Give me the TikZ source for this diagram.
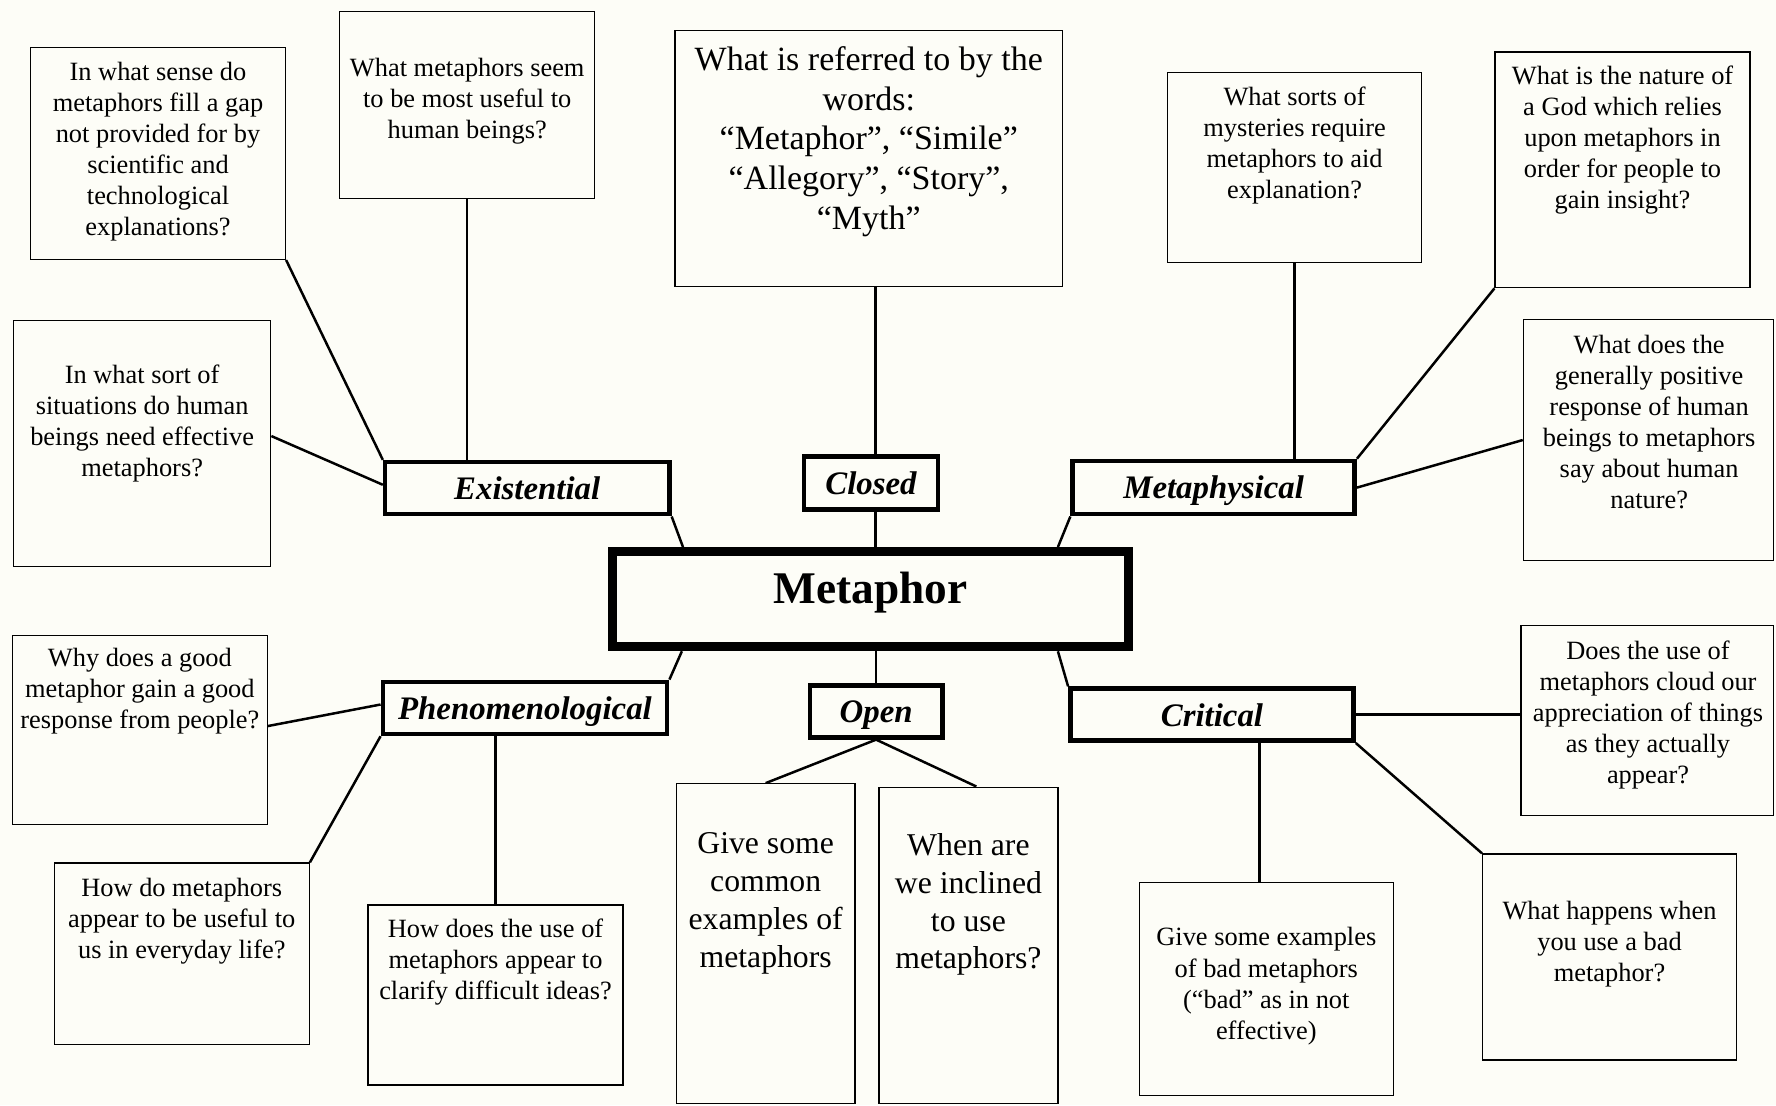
\documentclass[tikz,border=0pt]{standalone}
\usepackage{fontspec}
\setmainfont{Liberation Serif}
\usetikzlibrary{backgrounds}
\definecolor{paper}{RGB}{253,253,247}

\tikzset{
  qbox/.style={draw, line width=1.2pt, fill=paper, inner sep=0pt},
  qtext/.style={anchor=north, align=center, inner sep=0pt,
                font=\fontsize{23.3}{27.4}\selectfont},
  qtextbig/.style={qtext, font=\fontsize{30}{35}\selectfont},
  qtextmid/.style={qtext, font=\fontsize{28}{33.3}\selectfont},
  cat/.style={draw, line width=4pt, fill=paper, inner sep=0pt,
              font=\fontsize{29}{34}\selectfont\bfseries\itshape,
              text height=20pt, text depth=0pt},
  hub/.style={draw, line width=8pt, fill=paper, inner sep=0pt,
              font=\fontsize{40}{48}\selectfont\bfseries,
              text height=8pt, text depth=0pt},
  link/.style={line width=2.2pt},
}

% question frame from its corners: name, x1, y1, x2, y2
\newcommand\qframe[5]{%
  \node[qbox, minimum width={#4pt-#2pt}, minimum height={#5pt-#3pt}]
    (#1) at ({(#2+#4)/2},{(#3+#5)/2}) {};}

\begin{document}
\begin{tikzpicture}[x=1pt, y=-1pt]
\useasboundingbox (0,0) rectangle (1568,976);

% ---- central topic and the six categories ----
\node[hub, minimum width=455pt, minimum height=84pt] (mt) at (768.5,529) {Metaphor};
\node[cat, minimum width=251pt, minimum height=46pt] (ex) at (465.5,431) {Existential};
\node[cat, minimum width=118pt, minimum height=47pt] (cl) at (769,426.5) {Closed};
\node[cat, minimum width=249pt, minimum height=47pt] (mp) at (1071.5,430.5) {Metaphysical};
\node[cat, minimum width=251pt, minimum height=46pt] (ph) at (463.5,625) {Phenomenological};
\node[cat, minimum width=117pt, minimum height=46pt] (op) at (773.5,628) {Open};
\node[cat, minimum width=250pt, minimum height=46pt] (cr) at (1070,631) {Critical};

% ---- question frames ----
\qframe{b1}{27}{42}{252}{229}
\qframe{b2}{300}{10}{525}{175}
\qframe{b3}{596}{27}{938}{253}
\qframe{b4}{1031}{64}{1255}{232}
\qframe{b5}{1320}{46}{1545}{254}
\qframe{b6}{12}{283}{239}{500}
\qframe{b7}{1345}{282}{1566}{495}
\qframe{b8}{11}{561}{236}{728}
\qframe{b9}{1343}{552}{1566}{720}
\qframe{b10}{48}{762}{273}{922}
\qframe{b11}{325}{799}{550}{958}
\qframe{b12}{597}{692}{755}{974}
\qframe{b13}{776}{695}{934}{974}
\qframe{b14}{1006}{779}{1230}{967}
\qframe{b15}{1309}{754}{1533}{936}

% ---- question texts ----
\node[qtext] (t1) at (139.5,51.8) {\strut In what sense do\\metaphors fill a gap\\not provided for by\\scientific and\\technological\\explanations?};
\node[qtext] (t2) at (412.5,47.8) {\strut What metaphors seem\\to be most useful to\\human beings?};
\node[qtextbig] (t3) at (767,37.5) {\strut What is referred to by the\\words:\\“Metaphor”, “Simile”\\“Allegory”, “Story”,\\“Myth”};
\node[qtext] (t4) at (1143,73.8) {\strut What sorts of\\mysteries require\\metaphors to aid\\explanation?};
\node[qtext] (t5) at (1432.5,55.3) {\strut What is the nature of\\a God which relies\\upon metaphors in\\order for people to\\gain insight?};
\node[qtext] (t6) at (125.5,318.8) {\strut In what sort of\\situations do human\\beings need effective\\metaphors?};
\node[qtext] (t7) at (1456,292.7) {\strut What does the\\generally positive\\response of human\\beings to metaphors\\say about human\\nature?};
\node[qtext] (t8) at (123.5,568.8) {\strut Why does a good\\metaphor gain a good\\response from people?};
\node[qtext] (t9) at (1455,562.7) {\strut Does the use of\\metaphors cloud our\\appreciation of things\\as they actually\\appear?};
\node[qtext] (t10) at (160.5,772.3) {\strut How do metaphors\\appear to be useful to\\us in everyday life?};
\node[qtext] (t11) at (437.5,808.3) {\strut How does the use of\\metaphors appear to\\clarify difficult ideas?};
\node[qtextmid] (t12) at (676,730.4) {\strut Give some\\common\\examples of\\metaphors};
\node[qtextmid] (t13) at (855,732) {\strut When are\\we inclined\\to use\\metaphors?};
\node[qtext] (t14) at (1118,815.8) {\strut Give some examples\\of bad metaphors\\(“bad” as in not\\effective)};
\node[qtext] (t15) at (1421,792.8) {\strut What happens when\\you use a bad\\metaphor?};

% ---- paper and connectors, beneath the frames ----
\begin{scope}[on background layer]
  \fill[paper] (0,0) rectangle (1568,976);
  % Existential
  \draw[link] (b1.south east) -- (ex.north west);
  \draw[link] (b2.south) -- (b2.south |- ex.north);
  \draw[link] ([yshift=6.5pt]b6.east) -- ([yshift=3pt]ex.west);
  \draw[link] (ex.south east) -- ([xshift=66pt]mt.north west);
  % Closed
  \draw[link] ([xshift=4pt]cl.north) -- ([xshift=4pt]cl.north |- b3.south);
  \draw[link] ([xshift=4pt]cl.south) -- ([xshift=4pt]cl.south |- mt.north);
  % Metaphysical
  \draw[link] (b4.south) -- (b4.south |- mp.north);
  \draw[link] (b5.south west) -- (mp.north east);
  \draw[link] (b7.west) -- (mp.east);
  \draw[link] (mp.south west) -- ([xshift=-66pt]mt.north east);
  % Phenomenological
  \draw[link] ([xshift=65pt]mt.south west) -- (ph.north east);
  \draw[link] ([yshift=3.5pt]b8.east) -- ([yshift=3pt]ph.west);
  \draw[link] (ph.south west) -- (b10.north east);
  \draw[link] (b11.north) -- (b11.north |- ph.south);
  % Open
  \draw[link] (op.north) -- (op.north |- mt.south);
  \draw[link] (b12.north) -- (op.south) -- ([xshift=7pt]b13.north);
  % Critical
  \draw[link] ([xshift=-66pt]mt.south east) -- (cr.north west);
  \draw[link] (cr.east) -- (cr.east -| b9.west);
  \draw[link] ([xshift=-6pt]b14.north) -- ([xshift=-6pt]b14.north |- cr.south);
  \draw[link] (cr.south east) -- (b15.north west);
\end{scope}
\end{tikzpicture}
\end{document}
